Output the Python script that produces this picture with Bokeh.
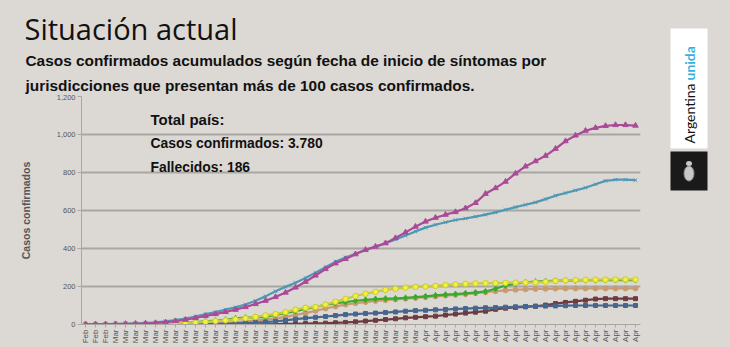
from bokeh.plotting import figure
from bokeh.models import Range1d, FixedTicker, Label, NumeralTickFormatter
from bokeh.layouts import row, column
from bokeh.embed import file_html
from bokeh.resources import INLINE
from bokeh.core.properties import value
import math

# ---------------- data ----------------
dates = (["27-Feb", "28-Feb", "29-Feb"]
         + [f"{d}-Mar" for d in range(1, 32)]
         + [f"{d}-Apr" for d in range(1, 23)])
month_labels = [d.split("-")[1] for d in dates]

magenta = [1, 1, 1, 2, 3, 4, 6, 8, 12, 18, 25, 34, 45, 55, 66, 78, 92, 108, 125, 145,
           168, 195, 225, 258, 292, 322, 345, 370, 393, 410, 428, 455, 485, 515, 542, 562,
           578, 592, 612, 640, 688, 718, 752, 795, 832, 860, 888, 925, 965, 995, 1020, 1035,
           1045, 1050, 1050, 1047]
teal = [1, 1, 2, 3, 4, 6, 8, 11, 16, 23, 31, 42, 55, 65, 78, 90, 105, 125, 148, 175,
        198, 220, 245, 272, 302, 330, 352, 372, 392, 410, 428, 448, 468, 490, 510, 525,
        538, 550, 558, 568, 578, 590, 604, 618, 630, 643, 660, 678, 692, 706, 720, 738,
        756, 762, 762, 760]
yellow = [0, 0, 0, 1, 1, 2, 3, 4, 5, 6, 8, 10, 14, 18, 22, 27, 33, 40, 48, 55,
          65, 78, 88, 92, 105, 120, 135, 150, 162, 172, 182, 188, 194, 198, 200, 203,
          207, 211, 214, 216, 217, 218, 219, 220, 221, 222, 225, 229, 232, 234, 235, 236,
          236, 237, 237, 237]
green = [0, 0, 0, 1, 1, 2, 2, 3, 3, 5, 8, 12, 16, 20, 25, 32, 36, 38, 40, 50,
         60, 70, 82, 92, 104, 112, 118, 125, 130, 134, 136, 137, 140, 144, 148, 153,
         157, 160, 164, 168, 174, 188, 205, 215, 222, 226, 228, 230, 231, 232, 233, 233,
         234, 234, 234, 234]
tan = [0, 0, 0, 0, 1, 1, 1, 2, 2, 2, 3, 3, 3, 5, 8, 12, 16, 20, 26, 32,
       40, 50, 60, 72, 84, 95, 105, 112, 118, 124, 128, 132, 136, 140, 144, 148,
       152, 156, 160, 165, 170, 175, 180, 183, 185, 187, 188, 189, 190, 190, 190, 190,
       190, 190, 190, 190]
darkblue = [0, 0, 0, 0, 1, 1, 1, 1, 2, 2, 2, 3, 3, 4, 5, 6, 8, 10, 13, 17,
            22, 28, 34, 38, 42, 47, 52, 55, 58, 60, 63, 66, 70, 73, 75, 77,
            79, 82, 84, 86, 88, 89, 91, 93, 95, 96, 97, 98, 99, 100, 100, 100,
            100, 100, 100, 100]
brown = [0, 0, 0, 0, 0, 0, 0, 1, 1, 1, 1, 1, 1, 1, 1, 1, 1, 1, 1, 2,
         3, 4, 5, 6, 7, 9, 11, 14, 18, 22, 26, 30, 35, 38, 41, 44,
         50, 55, 60, 65, 70, 80, 86, 90, 93, 96, 102, 110, 116, 122, 128, 134,
         136, 136, 136, 136]

y_ticks = [0, 200, 400, 600, 800, 1000, 1200]

title_text = "Situación actual"
subtitle_lines = ["Casos confirmados acumulados según fecha de inicio de síntomas por",
                  "jurisdicciones que presentan más de 100 casos confirmados."]
box_lines = ["Total país:", "Casos confirmados: 3.780", "Fallecidos: 186"]

BG = "#dcd8d4"
FONT = "Liberation Sans"
xs = list(range(len(dates)))


def blank(fig):
    fig.axis.visible = False
    fig.grid.visible = False
    fig.background_fill_color = BG
    fig.border_fill_color = BG
    fig.outline_line_color = None
    fig.frame_align = False


# ---------------- header ----------------
HDR_H = 94
h = figure(width=660, height=HDR_H, x_range=Range1d(0, 660), y_range=Range1d(HDR_H, 0),
           output_backend="svg", toolbar_location=None, title_location=None,
           min_border_left=0, min_border_right=0, min_border_top=0, min_border_bottom=0)
blank(h)
h.text(x=[24], y=[28], text=[title_text], text_font=value("Open Sans"), text_font_size="29px",
       text_color="#111111", text_baseline="middle")
h.text(x=[25, 25], y=[59.6, 85], text=subtitle_lines, text_font=value(FONT),
       text_font_style="bold", text_font_size="15.4px", text_color="#111111",
       text_baseline="middle")

# ---------------- chart ----------------
p = figure(width=660, height=347 - HDR_H, x_range=Range1d(-0.4, 55.5), y_range=Range1d(0, 1200),
           output_backend="svg", toolbar_location=None, title_location=None,
           min_border_left=81, min_border_right=20, min_border_top=96 - HDR_H,
           min_border_bottom=23)
p.frame_align = False
p.background_fill_color = BG
p.border_fill_color = BG
p.outline_line_color = None

p.xgrid.grid_line_color = None
p.ygrid.grid_line_color = "#a9a7a4"
p.ygrid.grid_line_width = 2
p.ygrid.ticker = FixedTicker(ticks=y_ticks)

p.yaxis.ticker = FixedTicker(ticks=y_ticks)
p.yaxis.formatter = NumeralTickFormatter(format="0,0")
p.yaxis.major_label_text_font_size = "7.5px"
p.yaxis.major_label_text_color = "#555555"
p.yaxis.major_label_text_font = FONT
p.yaxis.major_tick_out = 4
p.yaxis.major_tick_in = 0
p.yaxis.minor_tick_line_color = None
p.yaxis.axis_line_color = "#a9a7a4"
p.yaxis.major_tick_line_color = "#a9a7a4"
p.yaxis.major_label_standoff = 2
p.yaxis.axis_label = "Casos confirmados"
p.yaxis.axis_label_text_font = FONT
p.yaxis.axis_label_text_font_style = "bold"
p.yaxis.axis_label_text_font_size = "10.5px"
p.yaxis.axis_label_text_color = "#555555"
p.yaxis.axis_label_standoff = 22

p.xaxis.ticker = FixedTicker(ticks=xs)
p.xaxis.major_label_overrides = {i: m for i, m in zip(xs, month_labels)}
p.xaxis.major_label_orientation = math.pi / 2
p.xaxis.major_label_text_font_size = "8px"
p.xaxis.major_label_text_color = "#555555"
p.xaxis.major_label_text_font = FONT
p.xaxis.major_tick_out = 3
p.xaxis.major_tick_in = 0
p.xaxis.minor_tick_line_color = None
p.xaxis.axis_line_color = "#a9a7a4"
p.xaxis.major_tick_line_color = "#a9a7a4"
p.xaxis.major_label_standoff = 2

series = [
    (tan, "#c89c70", "#c89c70", "circle", 5),
    (brown, "#6e3c40", "#6e3c40", "square", 4),
    (darkblue, "#46668e", "#46668e", "square", 4),
    (green, "#3aaa2c", "#3aaa2c", "diamond", 6),
    (yellow, "#c8c83a", "#f2f23e", "circle", 5.5),
    (teal, "#4f98b4", "#4f98b4", "x", 5),
    (magenta, "#aa4a98", "#aa4a98", "triangle", 5.5),
]
for ys, lc, fc, mk, ms in series:
    p.line(xs, ys, line_color=lc, line_width=2.2)
    p.scatter(xs, ys, marker=mk, size=ms, line_color=lc, fill_color=fc, line_width=1)

# vertical middles of the three info lines (screen px above the frame bottom)
for (t, yy, sz) in zip(box_lines, [205, 182, 158], ["15px", "13.9px", "13.9px"]):
    p.add_layout(Label(x=69, y=yy, x_units="screen", y_units="screen", text=t,
                       text_font=FONT, text_font_style="bold", text_font_size=sz,
                       text_color="#111111", text_baseline="middle"))

# ---------------- logo ----------------
g = figure(width=70, height=347, x_range=Range1d(0, 70), y_range=Range1d(347, 0),
           output_backend="svg", toolbar_location=None, title_location=None,
           min_border_left=0, min_border_right=0, min_border_top=0, min_border_bottom=0)
blank(g)
g.quad(left=[10], right=[47], top=[28], bottom=[148], fill_color="white", line_color=None)
g.quad(left=[10], right=[47], top=[151], bottom=[190], fill_color="#1a1a1a", line_color=None)
g.ellipse(x=[28.5], y=[173], width=10, height=15, fill_color="#c8c8c8", line_color="#8a8a8a")
g.ellipse(x=[28.5], y=[163], width=6, height=5, fill_color="#c8c8c8", line_color=None)
g.text(x=[28.5], y=[143], text=["Argentina"], angle=math.pi / 2, text_font=value("Lato"),
       text_font_size="14px", text_color="#111111", text_align="left", text_baseline="middle")
g.text(x=[28.5], y=[80], text=["unida"], angle=math.pi / 2, text_font=value("Lato"),
       text_font_style="bold", text_font_size="14px", text_color="#3ab0dc",
       text_align="left", text_baseline="middle")

layout = row(column(h, p, styles={"background-color": BG}), g, styles={"background-color": BG})
open("out.html", "w").write(file_html(layout, INLINE))
